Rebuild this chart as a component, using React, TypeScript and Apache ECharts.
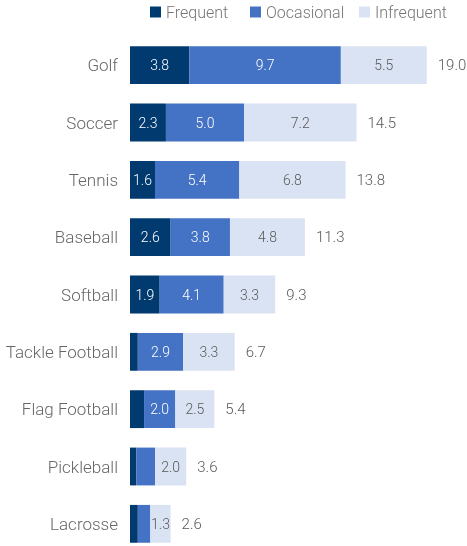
import React, { useEffect, useRef } from "react";
import * as echarts from "echarts";

const categories = ["Golf", "Soccer", "Tennis", "Baseball", "Softball", "Tackle Football", "Flag Football", "Pickleball", "Lacrosse"];
const frequent = [3.8, 2.3, 1.6, 2.6, 1.9, 0.5, 0.9, 0.4, 0.5];
const occasional = [9.7, 5.0, 5.4, 3.8, 4.1, 2.9, 2.0, 1.2, 0.8];
const infrequent = [5.5, 7.2, 6.8, 4.8, 3.3, 3.3, 2.5, 2.0, 1.3];
const totals = [19.0, 14.5, 13.8, 11.3, 9.3, 6.7, 5.4, 3.6, 2.6];
const seriesNames = ["Frequent", "Oocasional", "Infrequent"];

const FONT = "Roboto";

export default function App() {
  const ref = useRef<HTMLDivElement>(null);
  useEffect(() => {
    if (!ref.current) return;
    const chart = echarts.init(ref.current, null, { renderer: "svg" });
    const segLabel = (color: string) => ({
      show: true,
      position: "inside" as const,
      color,
      fontFamily: FONT,
      fontWeight: 300,
      fontSize: 14,
      formatter: (p: any) => (p.value >= 1.25 ? Number(p.value).toFixed(1) : ""),
    });
    const legendLefts = [145, 245, 354];
    chart.setOption({
      animation: false,
      textStyle: { fontFamily: FONT },
      legend: seriesNames.map((n, i) => ({
        left: legendLefts[i],
        top: -1,
        itemWidth: 11,
        itemHeight: 11,
        icon: "rect",
        textStyle: { color: "#767676", fontSize: 16, fontFamily: FONT, fontWeight: 300 },
        data: [n],
      })),
      grid: { left: 130, top: 36.5, height: 516, right: 9, outerBoundsMode: "none", containLabel: false },
      xAxis: { type: "value", min: 0, max: 21, show: false },
      yAxis: {
        type: "category",
        data: categories,
        inverse: true,
        axisLine: { show: false },
        axisTick: { show: false },
        axisLabel: { color: "#666666", fontSize: 17, fontFamily: FONT, fontWeight: 300, margin: 12 },
      },
      series: [
        {
          name: seriesNames[0],
          type: "bar",
          stack: "s",
          data: frequent,
          barWidth: "66%",
          itemStyle: { color: "#003a6e" },
          label: segLabel("#ffffff"),
        },
        {
          name: seriesNames[1],
          type: "bar",
          stack: "s",
          data: occasional,
          itemStyle: { color: "#4472c4" },
          label: segLabel("#ffffff"),
        },
        {
          name: seriesNames[2],
          type: "bar",
          stack: "s",
          data: infrequent,
          itemStyle: { color: "#dae3f3" },
          label: segLabel("#595959"),
        },
        {
          name: "Total",
          type: "bar",
          stack: "s",
          data: totals.map(() => 0),
          itemStyle: { color: "transparent" },
          label: {
            show: true,
            position: "right",
            distance: 11,
            color: "#595959",
            fontSize: 15,
            fontFamily: FONT,
            fontWeight: 300,
            formatter: (p: any) => totals[p.dataIndex].toFixed(1),
          },
        },
      ],
    });
    return () => chart.dispose();
  }, []);
  return <div ref={ref} style={{ position: "fixed", left: 0, top: 0, width: 467, height: 546 }} />;
}
